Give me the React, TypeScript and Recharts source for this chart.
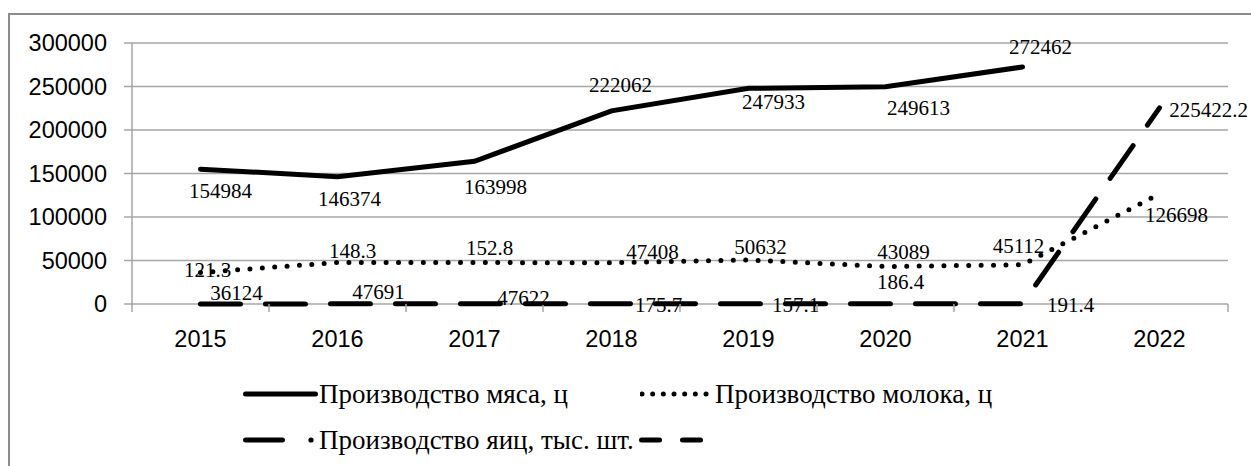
import { LineChart, Line, XAxis, YAxis, CartesianGrid, LabelList, Legend } from "recharts";

const years = ["2015", "2016", "2017", "2018", "2019", "2020", "2021", "2022"];
const meat = [154984, 146374, 163998, 222062, 247933, 249613, 272462, null];
const milk = [36124, 47691, 47622, 47408, 50632, 43089, 45112, 126698];
const eggs = [121.3, 148.3, 152.8, 175.7, 157.1, 186.4, 191.4, 225422.2];
const yTicks = [0, 50000, 100000, 150000, 200000, 250000, 300000];

// label offsets from each point, as placed in the source chart
const meatOffsets = [[20, 22], [12, 22], [21, 26], [9, -26], [25, 14], [33, 21], [18, -20], [0, 0]];
const milkOffsets = [[36, 20], [41, 29], [49, 35], [41, -11], [12, -13], [18, -15], [-4, -19], [17, 21]];
const eggOffsets = [[7, -34], [15, -53], [15, -56], [47, 1], [47, 1], [15, -22], [48, 1], [49, 2]];

const data = years.map((year, i) => ({ year, meat: meat[i], milk: milk[i], eggs: eggs[i] }));

const GRID = "#a6a6a6";
const SANS = "'Liberation Sans', Arial, sans-serif";
const SERIF = "'Liberation Serif', 'Times New Roman', serif";

const makeLabel = (offsets: number[][], values: (number | null)[]) => (props: any) => {
  const { value } = props;
  if (value == null) return null;
  const vb = props.viewBox || {};
  const px = props.x ?? vb.x;
  const py = props.y ?? vb.y;
  const idx = props.index ?? values.indexOf(value);
  const [dx, dy] = offsets[idx] ?? [0, 0];
  return (
    <text
      x={px + dx}
      y={py + dy}
      textAnchor="middle"
      dominantBaseline="central"
      fontFamily={SERIF}
      fontSize={21}
      fill="#000"
    >
      {String(value)}
    </text>
  );
};

const YearTick = (props: any) => {
  const { x, y, payload, index } = props;
  const half = payload?.offset ?? 68.5;
  return (
    <g>
      <line x1={x - half} x2={x - half} y1={y} y2={y + 8} stroke={GRID} strokeWidth={1.5} />
      {index === years.length - 1 && (
        <line x1={x + half} x2={x + half} y1={y} y2={y + 8} stroke={GRID} strokeWidth={1.5} />
      )}
      <text x={x} y={y + 35} textAnchor="middle" dominantBaseline="central" fontFamily={SANS} fontSize={23.5} fill="#000">
        {payload.value}
      </text>
    </g>
  );
};

const legendText: React.CSSProperties = { fontFamily: SERIF, fontSize: 27, color: "#000", whiteSpace: "nowrap" };
const item = (left: number, top: number): React.CSSProperties => ({
  position: "absolute",
  left,
  top,
  height: 30,
  display: "flex",
  alignItems: "center",
});

const renderLegend = () => (
  <div style={{ position: "relative", width: 1241, height: 90 }}>
    <div style={item(233, 9)}>
      <svg width={75} height={10}>
        <line x1={2.5} x2={72.5} y1={5} y2={5} stroke="#000" strokeWidth={5} strokeLinecap="round" />
      </svg>
      <span style={{ ...legendText, marginLeft: 1 }}>Производство мяса, ц</span>
    </div>
    <div style={item(630, 9)}>
      <svg width={75} height={10}>
        <line x1={2} x2={67} y1={5} y2={5} stroke="#000" strokeWidth={5} strokeLinecap="round" strokeDasharray="0 10.67" />
      </svg>
      <span style={legendText}>Производство молока, ц</span>
    </div>
    <div style={item(231, 55)}>
      <svg width={78} height={10}>
        <line x1={4.5} x2={41.5} y1={5} y2={5} stroke="#000" strokeWidth={5} strokeLinecap="round" />
        <circle cx={70} cy={5} r={2.6} fill="#000" />
      </svg>
      <span style={legendText}>Производство яиц, тыс. шт.</span>
      <svg width={70} height={10} style={{ marginLeft: 5 }}>
        <line x1={2.5} x2={20.5} y1={5} y2={5} stroke="#000" strokeWidth={5} strokeLinecap="round" />
        <line x1={43.5} x2={61.5} y1={5} y2={5} stroke="#000" strokeWidth={5} strokeLinecap="round" />
      </svg>
    </div>
  </div>
);

export default function App() {
  return (
    <div style={{ position: "fixed", left: 0, top: 0, width: 1251, height: 466, overflow: "hidden", background: "#fff" }}>
      <div
        style={{
          position: "absolute",
          top: 13,
          left: 8,
          width: 1300,
          height: 500,
          borderTop: "2px solid #8c8c8c",
          borderLeft: "2px solid #8c8c8c",
        }}
      >
        <LineChart width={1241} height={440} data={data} margin={{ top: 28, right: 23, left: 0, bottom: 111 }}>
          <CartesianGrid vertical={false} stroke={GRID} strokeWidth={1.5} />
          <XAxis
            dataKey="year"
            scale="band"
            height={40}
            axisLine={false}
            tickLine={false}
            tickSize={0}
            tickMargin={0}
            tick={<YearTick />}
            interval={0}
          />
          <YAxis
            width={122}
            domain={[0, 300000]}
            ticks={yTicks}
            interval={0}
            axisLine={{ stroke: GRID, strokeWidth: 1.5 }}
            tickLine={{ stroke: GRID, strokeWidth: 1.5 }}
            tickSize={8}
            tickMargin={17}
            tick={{ fontFamily: SANS, fontSize: 23.5, fill: "#000" }}
          />
          <Legend
            layout="vertical"
            align="center"
            verticalAlign="middle"
            wrapperStyle={{ left: 0, top: 355, width: 1241, height: 90 }}
            content={renderLegend}
          />
          <Line
            type="linear"
            dataKey="meat"
            stroke="#000"
            strokeWidth={5}
            strokeLinecap="round"
            dot={false}
            isAnimationActive={false}
          >
            <LabelList dataKey="meat" content={makeLabel(meatOffsets, meat)} />
          </Line>
          <Line
            type="linear"
            dataKey="milk"
            stroke="#000"
            strokeWidth={5}
            strokeLinecap="round"
            strokeDasharray="0 12.4"
            dot={false}
            isAnimationActive={false}
          >
            <LabelList dataKey="milk" content={makeLabel(milkOffsets, milk)} />
          </Line>
          <Line
            type="linear"
            dataKey="eggs"
            stroke="#000"
            strokeWidth={5}
            strokeLinecap="round"
            strokeDasharray="40 25"
            dot={false}
            isAnimationActive={false}
          >
            <LabelList dataKey="eggs" content={makeLabel(eggOffsets, eggs)} />
          </Line>
        </LineChart>
      </div>
    </div>
  );
}
